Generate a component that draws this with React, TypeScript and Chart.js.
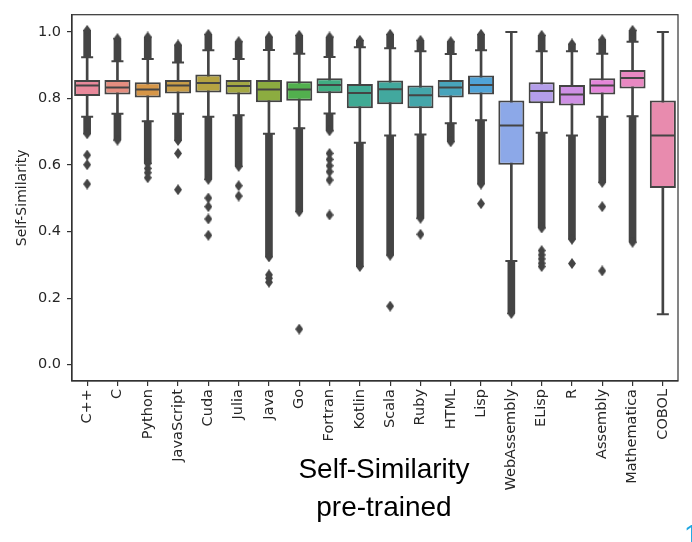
import React, { useEffect, useRef } from "react";
import { Chart, registerables } from "chart.js";

Chart.register(...registerables);

// Languages along the x axis
const languages = [
  "C++", "C", "Python", "JavaScript", "Cuda", "Julia", "Java", "Go", "Fortran", "Kotlin",
  "Scala", "Ruby", "HTML", "Lisp", "WebAssembly", "ELisp", "R", "Assembly", "Mathematica", "COBOL",
];

// Box-plot summary of self-similarity per language
const lowerWhisker = [0.745, 0.754, 0.732, 0.754, 0.745, 0.75, 0.694, 0.711, 0.755, 0.667, 0.689, 0.692, 0.726, 0.735, 0.312, 0.697, 0.689, 0.745, 0.747, 0.152];
const firstQuartile = [0.808, 0.812, 0.803, 0.815, 0.818, 0.812, 0.789, 0.793, 0.816, 0.771, 0.783, 0.771, 0.803, 0.812, 0.601, 0.786, 0.779, 0.812, 0.83, 0.531];
const medians = [0.839, 0.833, 0.827, 0.839, 0.847, 0.838, 0.827, 0.827, 0.841, 0.817, 0.828, 0.81, 0.833, 0.841, 0.719, 0.823, 0.812, 0.839, 0.862, 0.689];
const thirdQuartile = [0.856, 0.856, 0.849, 0.856, 0.872, 0.856, 0.856, 0.852, 0.861, 0.844, 0.854, 0.839, 0.856, 0.869, 0.794, 0.849, 0.841, 0.861, 0.886, 0.794];
const upperWhisker = [0.924, 0.912, 0.919, 0.908, 0.945, 0.919, 0.946, 0.935, 0.925, 0.954, 0.951, 0.942, 0.934, 0.945, 1.0, 0.942, 0.942, 0.935, 0.971, 1.0];

// Outliers: dense runs reach from the whisker cap to these extremes
const highestFlier: (number | null)[] = [1.005, 0.98, 0.985, 0.961, 0.993, 0.971, 0.985, 0.99, 0.985, 0.975, 0.993, 0.975, 0.971, 0.993, null, 0.99, 0.964, 0.977, 1.005, null];
const lowestDenseFlier: (number | null)[] = [0.694, 0.675, 0.605, 0.674, 0.557, 0.596, 0.324, 0.46, 0.703, 0.295, 0.329, 0.44, 0.67, 0.543, 0.154, 0.411, 0.377, 0.548, 0.368, null];
// Isolated outliers below the dense runs
const isolatedFliers: number[][] = [
  [0.63, 0.601, 0.543],
  [],
  [0.59, 0.577, 0.562],
  [0.635, 0.526],
  [0.501, 0.475, 0.438, 0.389],
  [0.538, 0.507],
  [0.27, 0.26, 0.248],
  [0.107],
  [0.635, 0.617, 0.598, 0.58, 0.555, 0.45],
  [],
  [0.176],
  [0.392],
  [],
  [0.484],
  [],
  [0.343, 0.33, 0.318, 0.305, 0.295],
  [0.304],
  [0.475, 0.282],
  [],
  [],
];

const boxColors = [
  "rgb(233,137,155)", "rgb(228,142,128)", "rgb(214,150,72)", "rgb(200,157,72)", "rgb(181,163,66)",
  "rgb(164,168,68)", "rgb(140,172,64)", "rgb(82,176,78)", "rgb(64,172,130)", "rgb(64,170,148)",
  "rgb(66,168,158)", "rgb(68,166,170)", "rgb(72,164,188)", "rgb(80,163,215)", "rgb(140,168,232)",
  "rgb(180,158,234)", "rgb(206,144,228)", "rgb(228,134,218)", "rgb(233,136,194)", "rgb(232,139,174)",
];

const yTickValues = [0, 0.2, 0.4, 0.6, 0.8, 1.0];

const INK = "#444444";
const AXIS = "#333333";
const TEXT = "#262626";
const TICK_FONT = { family: "DejaVu Sans", size: 14.5 };

function thinDiamond(): HTMLCanvasElement {
  const c = document.createElement("canvas");
  c.width = 8;
  c.height = 11;
  const g = c.getContext("2d")!;
  g.fillStyle = INK;
  g.beginPath();
  g.moveTo(4, 0);
  g.lineTo(8, 5.5);
  g.lineTo(4, 11);
  g.lineTo(0, 5.5);
  g.closePath();
  g.fill();
  return c;
}

const framePlugin = {
  id: "frame",
  afterDraw(chart: any) {
    const { ctx, chartArea } = chart;
    ctx.save();
    ctx.strokeStyle = AXIS;
    ctx.lineWidth = 1.2;
    ctx.strokeRect(chartArea.left, chartArea.top, chartArea.right - chartArea.left, chartArea.bottom - chartArea.top);
    ctx.restore();
  },
};

export default function App() {
  const canvasRef = useRef<HTMLCanvasElement | null>(null);

  useEffect(() => {
    if (!canvasRef.current) return;
    const diamond = thinDiamond();

    const capPoints: { x: string; y: number }[] = [];
    languages.forEach((lang, i) => {
      capPoints.push({ x: lang, y: lowerWhisker[i] });
      capPoints.push({ x: lang, y: upperWhisker[i] });
    });

    const flierPoints: { x: string; y: number }[] = [];
    languages.forEach((lang, i) => {
      if (highestFlier[i] !== null) flierPoints.push({ x: lang, y: highestFlier[i] as number });
      if (lowestDenseFlier[i] !== null) flierPoints.push({ x: lang, y: lowestDenseFlier[i] as number });
      isolatedFliers[i].forEach((v) => flierPoints.push({ x: lang, y: v }));
    });

    const chart = new Chart(canvasRef.current, {
      type: "bar",
      data: {
        labels: languages,
        datasets: [
          {
            type: "bar",
            label: "whiskers",
            data: languages.map((_, i) => [lowerWhisker[i], upperWhisker[i]]),
            backgroundColor: INK,
            borderWidth: 0,
            barThickness: 2,
            grouped: false,
            order: 6,
          } as any,
          {
            type: "bar",
            label: "upper fliers",
            data: languages.map((_, i) => (highestFlier[i] === null ? null : [upperWhisker[i], highestFlier[i]])),
            backgroundColor: INK,
            borderWidth: 0,
            barThickness: 7,
            grouped: false,
            order: 5,
          } as any,
          {
            type: "bar",
            label: "lower fliers",
            data: languages.map((_, i) => (lowestDenseFlier[i] === null ? null : [lowestDenseFlier[i], lowerWhisker[i]])),
            backgroundColor: INK,
            borderWidth: 0,
            barThickness: 7,
            grouped: false,
            order: 5,
          } as any,
          {
            type: "bar",
            label: "boxes",
            data: languages.map((_, i) => [firstQuartile[i], thirdQuartile[i]]),
            backgroundColor: boxColors,
            borderColor: INK,
            borderWidth: 2,
            borderSkipped: false,
            barPercentage: 0.86,
            categoryPercentage: 1,
            grouped: false,
            order: 3,
          } as any,
          {
            type: "line",
            label: "caps",
            data: capPoints,
            showLine: false,
            pointStyle: "line",
            pointRadius: 6,
            pointBorderWidth: 2,
            pointBorderColor: INK,
            pointBackgroundColor: INK,
            borderColor: INK,
            backgroundColor: INK,
            order: 2,
          } as any,
          {
            type: "line",
            label: "fliers",
            data: flierPoints,
            showLine: false,
            pointStyle: diamond,
            pointRadius: 5,
            borderColor: INK,
            backgroundColor: INK,
            order: 2,
          } as any,
          {
            type: "line",
            label: "medians",
            data: medians,
            showLine: false,
            pointStyle: "line",
            pointRadius: 12,
            pointBorderWidth: 2,
            pointBorderColor: INK,
            borderColor: INK,
            backgroundColor: INK,
            order: 1,
          } as any,
        ],
      },
      options: {
        responsive: false,
        animation: false,
        events: [],
        layout: { padding: { top: 4, right: 4, left: 0, bottom: 0 } },
        plugins: {
          legend: { display: false },
          tooltip: { enabled: false },
        },
        scales: {
          x: {
            type: "category",
            offset: true,
            grid: {
              display: true,
              offset: false,
              drawOnChartArea: false,
              drawTicks: true,
              tickLength: 5,
              color: AXIS,
              lineWidth: 1.2,
            },
            border: { display: true, color: AXIS, width: 1.2 },
            ticks: {
              autoSkip: false,
              minRotation: 90,
              maxRotation: 90,
              padding: 3,
              color: TEXT,
              font: TICK_FONT,
            },
            afterFit: (scale: any) => {
              scale.height = 161;
            },
          },
          y: {
            type: "linear",
            min: -0.049,
            max: 1.052,
            grid: {
              display: true,
              drawOnChartArea: false,
              drawTicks: true,
              tickLength: 5,
              color: AXIS,
              lineWidth: 1.2,
            },
            border: { display: true, color: AXIS, width: 1.2 },
            afterBuildTicks: (scale: any) => {
              scale.ticks = yTickValues.map((v) => ({ value: v }));
            },
            ticks: {
              padding: 6,
              color: TEXT,
              font: TICK_FONT,
              callback: (v: any) => Number(v).toFixed(1),
            },
            title: {
              display: true,
              text: "Self-Similarity",
              color: TEXT,
              font: { family: "DejaVu Sans", size: 14 },
              padding: { top: 14, bottom: 0 },
            },
            afterFit: (scale: any) => {
              scale.width = 72;
            },
          },
        },
      },
      plugins: [framePlugin],
    } as any);

    return () => chart.destroy();
  }, []);

  return (
    <div
      style={{
        position: "fixed",
        left: 0,
        top: 0,
        width: 692,
        height: 542,
        overflow: "hidden",
        background: "#ffffff",
      }}
    >
      <canvas ref={canvasRef} width={692} height={542} style={{ display: "block" }} />
      <div
        style={{
          position: "absolute",
          left: 384,
          top: 450,
          transform: "translateX(-50%)",
          fontFamily: "'Liberation Sans', Arial, sans-serif",
          fontSize: 28,
          lineHeight: "38px",
          color: "#000000",
          textAlign: "center",
          whiteSpace: "nowrap",
        }}
      >
        <div>Self-Similarity</div>
        <div>pre-trained</div>
      </div>
      <div
        style={{
          position: "absolute",
          left: 684,
          top: 520,
          fontFamily: "'Liberation Sans', Arial, sans-serif",
          fontSize: 28,
          lineHeight: "30px",
          color: "#1ea7e1",
        }}
      >
        1
      </div>
    </div>
  );
}
